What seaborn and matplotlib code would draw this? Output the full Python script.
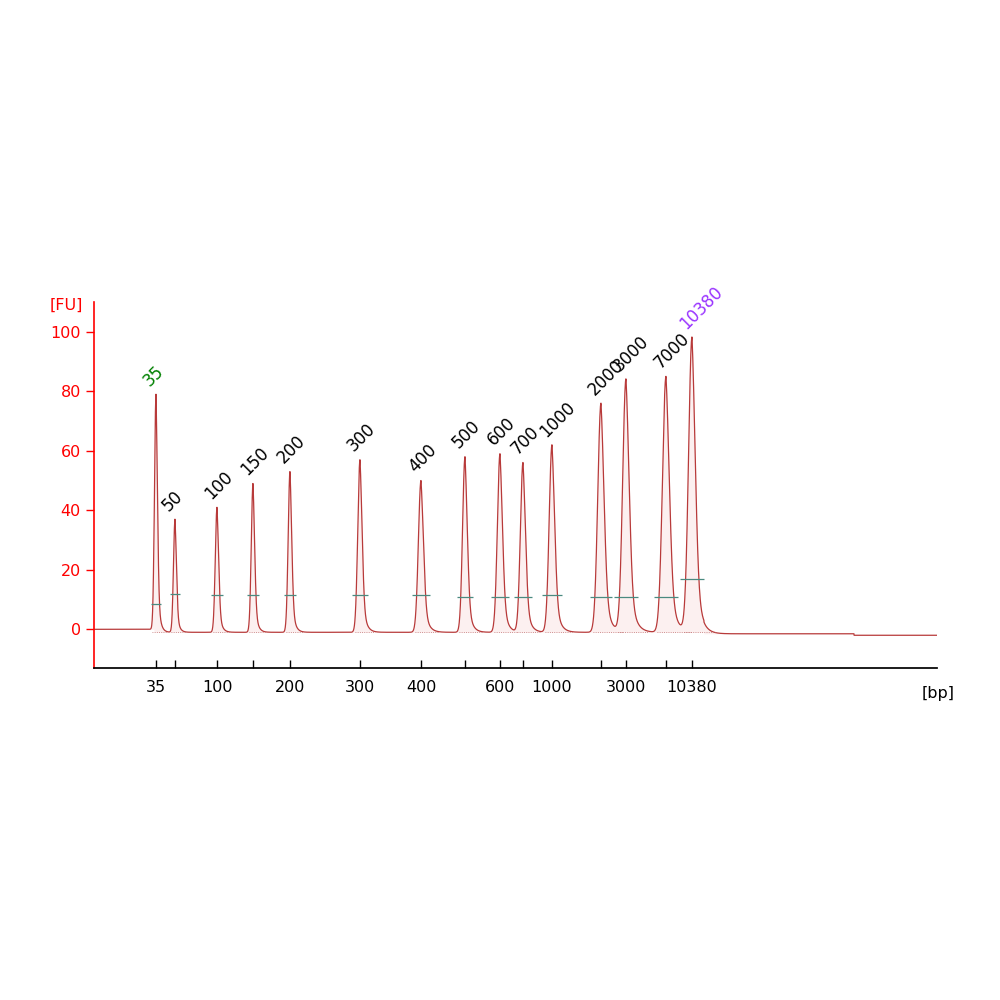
import numpy as np
import matplotlib
matplotlib.use("Agg")
import matplotlib.pyplot as plt
import seaborn as sns
import pandas as pd

# ladder peaks: size label, migration position (run-time units), height [FU]
sizes = ["35", "50", "100", "150", "200", "300", "400", "500", "600", "700",
         "1000", "2000", "3000", "7000", "10380"]
positions = [62, 81, 123, 159, 196, 266, 327, 371, 406, 429, 458, 507, 532, 572, 598]
heights = [80, 38, 42, 50, 54, 58, 51, 59, 60, 57, 63, 77, 85, 86, 99]
widths = [1.5, 1.5, 1.7, 1.7, 1.8, 2.2, 2.6, 2.4, 2.6, 2.6, 2.8, 3.2, 3.3, 3.5, 3.4]
tick_labels = ["35", "", "100", "", "200", "300", "400", "", "600", "",
               "1000", "", "3000", "", "10380"]
region_level = [8.5, 12, 11.5, 11.5, 11.5, 11.5, 11.5, 11, 11, 11, 11.5, 11, 11, 11, 17]
label_colors = ["green"] + ["black"] * 13 + ["#9933ff"]

sns.set_theme(style="white")
plt.rcParams['font.family'] = ['DejaVu Sans']

x = np.linspace(0, 843, 6000)
base = np.where(x < 60, 0.0, -1.0)
base = np.where(x > 610, -1.5, base)
base = np.where(x > 760, -2.0, base)
y = base.copy()
for p, h, w in zip(positions, heights, widths):
    d = x - p
    rise = np.exp(-0.5 * (d / w) ** 2)
    tail = np.exp(-np.clip(d, 0, None) / (w * 1.5)) * (d >= 0)
    prof = np.where(d < 0, rise, 0.6 * rise + 0.4 * tail)
    y += h * prof / prof.max()
df = pd.DataFrame({"t": x, "fu": y})

fig = plt.figure(figsize=(10, 10), dpi=100)
ax = fig.add_axes([0.094, 0.332, 0.843, 0.366])
sns.lineplot(data=df, x="t", y="fu", ax=ax, color="#b83a3a", lw=0.9)
ax.fill_between(x, base, y, color="#f5c6c6", alpha=0.25, lw=0)

for p, h, w, lv, lab, c in zip(positions, heights, widths, region_level, sizes, label_colors):
    ax.hlines(lv, p - 3.5 * w, p + 3.5 * w, color="#4a8a80", lw=0.9)
    ax.hlines(-1 if p > 60 else 0, p - 2.5 * w, p + 7 * w, color="#c07070", lw=0.6, ls=":")
    ax.text(p - 3, h + 0.5, lab, rotation=45, fontsize=12, color=c, ha="left", va="bottom",
            rotation_mode="anchor")

ax.set_xlim(0, 843)
ax.set_ylim(-13, 110)
ax.set_yticks([0, 20, 40, 60, 80, 100])
ax.set_xticks(positions)
ax.set_xticklabels(tick_labels, fontsize=11.5)
ax.tick_params(axis="y", colors="red", labelsize=11.5, length=6, width=1, direction="out", left=True)
ax.tick_params(axis="x", colors="black", labelsize=11.5, length=6, width=1, direction="in", bottom=True, pad=9)
for s in ["top", "right"]:
    ax.spines[s].set_visible(False)
ax.spines["left"].set_color("red")
ax.spines["left"].set_linewidth(1.2)
ax.spines["bottom"].set_color("black")
ax.set_xlabel("")
ax.set_ylabel("")
fig.text(0.05, 0.69, "[FU]", color="red", fontsize=11.5)
fig.text(0.922, 0.302, "[bp]", color="black", fontsize=11.5)
fig.savefig("out.png", dpi=100)
